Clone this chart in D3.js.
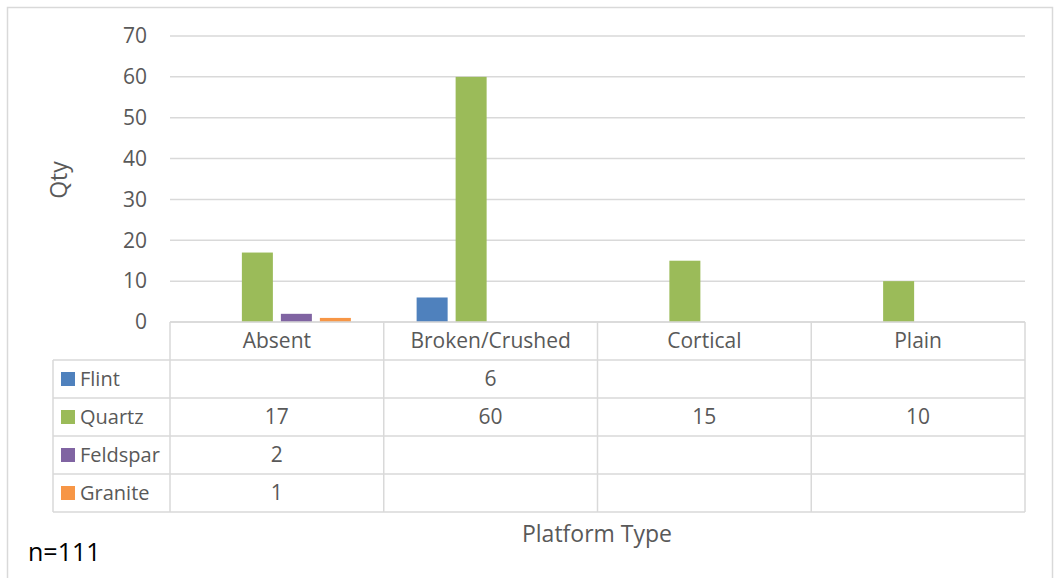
<!DOCTYPE html>
<html>
<head>
<meta charset="utf-8">
<script src="https://cdn.jsdelivr.net/npm/d3@7"></script>
<style>
  html, body { margin: 0; padding: 0; background: #fff; }
  svg { display: block; font-family: "Open Sans", "Liberation Sans", sans-serif; }
</style>
</head>
<body>
<svg id="chart" width="1054" height="578"></svg>
<script>
// Platform types (x categories)
const categories = ["Absent", "Broken/Crushed", "Cortical", "Plain"];
// Raw material series (null = no value in the data table)
const seriesNames = ["Flint", "Quartz", "Feldspar", "Granite"];
const flint    = [null, 6, null, null];
const quartz   = [17, 60, 15, 10];
const feldspar = [2, null, null, null];
const granite  = [1, null, null, null];
const yTicks = [0, 10, 20, 30, 40, 50, 60, 70];
const seriesColors = ["#4f81bd", "#9bbb59", "#8064a2", "#f79646"];

const seriesValues = [flint, quartz, feldspar, granite];

const svg = d3.select("#chart");
const textColor = "#595959";
const lineColor = "#d9d9d9";

// Outer chart border
svg.append("rect")
  .attr("x", 7.5).attr("y", 7.5)
  .attr("width", 1045).attr("height", 580)
  .attr("fill", "none").attr("stroke", lineColor).attr("stroke-width", 1.5);

const plotLeft = 170, plotRight = 1025, plotTop = 36, plotBottom = 322;

const x = d3.scaleBand().domain(categories).range([plotLeft, plotRight]);
const y = d3.scaleLinear().domain([0, 70]).range([plotBottom, plotTop]);
const xs = d3.scaleBand().domain(seriesNames)
  .range([0, 148]).paddingInner(0.205);

// Gridlines
svg.append("g").selectAll("line").data(yTicks).join("line")
  .attr("x1", plotLeft).attr("x2", plotRight)
  .attr("y1", d => y(d)).attr("y2", d => y(d))
  .attr("stroke", lineColor).attr("stroke-width", 1.5);

// Y axis labels
const yAxis = d3.axisLeft(y).tickValues(yTicks).tickSize(0).tickPadding(0);
const yg = svg.append("g").attr("transform", `translate(${plotLeft - 23},0)`).call(yAxis);
yg.select(".domain").remove();
yg.selectAll("text")
  .attr("fill", textColor)
  .style("font-size", "21px")
  .style("font-family", "'Open Sans', sans-serif");

// Y axis title
svg.append("text")
  .attr("transform", `translate(67,180) rotate(-90)`)
  .attr("text-anchor", "middle")
  .attr("fill", textColor)
  .style("font-size", "23px")
  .text("Qty");

// Bars
const groupOffset = (x.bandwidth() - 148) / 2;
seriesNames.forEach((name, si) => {
  svg.append("g").selectAll("rect")
    .data(categories.map((c, ci) => ({ c, v: seriesValues[si][ci] })).filter(d => d.v != null))
    .join("rect")
    .attr("x", d => x(d.c) + groupOffset + xs(name))
    .attr("width", xs.bandwidth())
    .attr("y", d => y(d.v))
    .attr("height", d => y(0) - y(d.v))
    .attr("fill", seriesColors[si]);
});

// Data table
const tableLeft = 53;
const headerBottom = 360;
const rowH = 38;
const rowTops = seriesNames.map((_, i) => headerBottom + i * rowH);
const tableBottom = headerBottom + seriesNames.length * rowH;

const tg = svg.append("g").attr("stroke", lineColor).attr("stroke-width", 1.5);
// Horizontal lines
tg.append("line").attr("x1", plotLeft).attr("x2", plotRight).attr("y1", plotBottom).attr("y2", plotBottom);
[headerBottom, ...rowTops.slice(1), tableBottom].forEach(yy => {
  tg.append("line").attr("x1", tableLeft).attr("x2", plotRight).attr("y1", yy).attr("y2", yy);
});
// Vertical lines
tg.append("line").attr("x1", tableLeft).attr("x2", tableLeft).attr("y1", headerBottom).attr("y2", tableBottom);
[plotLeft, ...categories.slice(1).map(c => x(c)), plotRight].forEach(xx => {
  tg.append("line").attr("x1", xx).attr("x2", xx).attr("y1", plotBottom).attr("y2", tableBottom);
});

// Category headers
svg.append("g").selectAll("text").data(categories).join("text")
  .attr("x", d => x(d) + x.bandwidth() / 2)
  .attr("y", (plotBottom + headerBottom) / 2)
  .attr("dy", "0.35em")
  .attr("text-anchor", "middle")
  .attr("fill", textColor)
  .style("font-size", "21px")
  .text(d => d);

// Row legend keys, names and values
seriesNames.forEach((name, si) => {
  const cy = rowTops[si] + rowH / 2;
  svg.append("rect")
    .attr("x", 61).attr("y", cy - 7)
    .attr("width", 14).attr("height", 14)
    .attr("fill", seriesColors[si]);
  svg.append("text")
    .attr("x", 80).attr("y", cy)
    .attr("dy", "0.35em")
    .attr("fill", textColor)
    .style("font-size", "20px")
    .text(name);
  svg.append("g").selectAll("text")
    .data(categories.map((c, ci) => ({ c, v: seriesValues[si][ci] })).filter(d => d.v != null))
    .join("text")
    .attr("x", d => x(d.c) + x.bandwidth() / 2)
    .attr("y", cy)
    .attr("dy", "0.35em")
    .attr("text-anchor", "middle")
    .attr("fill", textColor)
    .style("font-size", "21px")
    .text(d => d.v);
});

// X axis title
svg.append("text")
  .attr("x", 597).attr("y", 534)
  .attr("dy", "0.35em")
  .attr("text-anchor", "middle")
  .attr("fill", textColor)
  .style("font-size", "23px")
  .text("Platform Type");

// Sample size note
svg.append("text")
  .attr("x", 28).attr("y", 552)
  .attr("dy", "0.35em")
  .attr("fill", "#000")
  .style("font-size", "25px")
  .text("n=111");
</script>
</body>
</html>
